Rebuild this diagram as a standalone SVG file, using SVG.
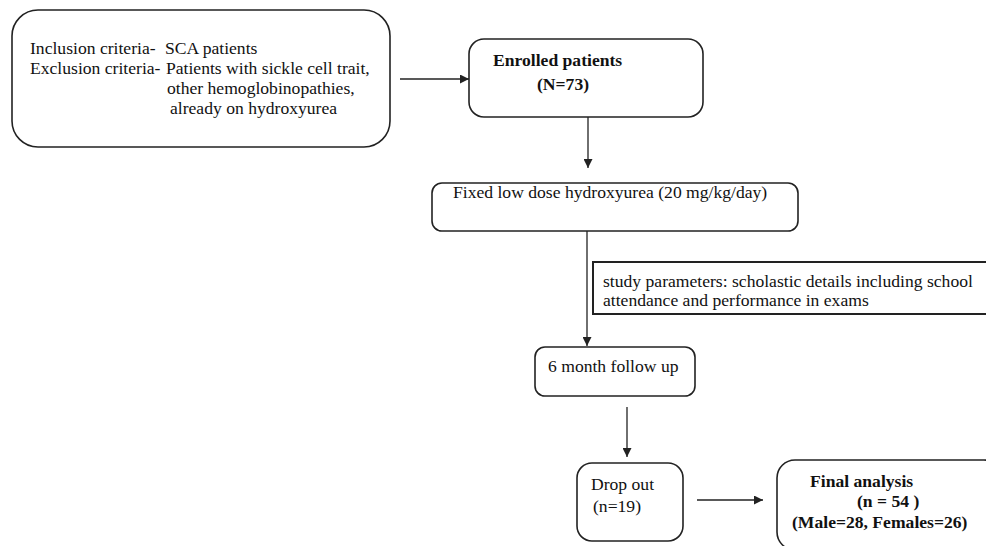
<svg xmlns="http://www.w3.org/2000/svg" width="986" height="546" viewBox="0 0 986 546">
<defs>
<style>
.box{fill:#fff;stroke:#222;stroke-width:1.6}
.t{font-family:"Liberation Serif","Times New Roman",serif;font-size:17.6px;fill:#111}
.b{font-weight:bold}
.c{stroke:#222;stroke-width:1.3;fill:none;marker-end:url(#ah)}
</style>
<marker id="ah" viewBox="0 0 10 10" refX="10" refY="5" markerWidth="9" markerHeight="9" markerUnits="userSpaceOnUse" orient="auto">
<path d="M0,0 L10,5 L0,10 z" fill="#222"/>
</marker>
</defs>
<rect width="986" height="546" fill="#fff"/>
<g id="connectors">
<line class="c" x1="400" y1="79" x2="469" y2="79"/>
<line class="c" x1="588" y1="117" x2="588" y2="168"/>
<line class="c" x1="587" y1="231" x2="587" y2="346"/>
<line class="c" x1="627" y1="407" x2="627" y2="457"/>
<line class="c" x1="697" y1="500" x2="763" y2="500"/>
</g>
<g id="criteria">
<rect class="box" x="12" y="10" width="378" height="137" rx="26"/>
<text class="t" x="30" y="54">Inclusion criteria-</text>
<text class="t" x="165" y="54">SCA patients</text>
<text class="t" x="30" y="74">Exclusion criteria-</text>
<text class="t" x="166" y="74">Patients with sickle cell trait,</text>
<text class="t" x="167" y="94">other hemoglobinopathies,</text>
<text class="t" x="170" y="114">already on hydroxyurea</text>
</g>
<g id="enrolled">
<rect class="box" x="469" y="39" width="234" height="78" rx="15"/>
<text class="t b" x="493" y="66">Enrolled patients</text>
<text class="t b" x="537" y="90">(N=73)</text>
</g>
<g id="hydroxyurea">
<rect class="box" x="432" y="183" width="366" height="48" rx="10"/>
<text class="t" x="453" y="198">Fixed low dose hydroxyurea (20 mg/kg/day)</text>
</g>
<g id="parameters">
<rect class="box" x="593" y="262" width="400" height="52" style="stroke-width:2"/>
<text class="t" x="603" y="287">study parameters: scholastic details including school</text>
<text class="t" x="603" y="306">attendance and performance in exams</text>
</g>
<g id="followup">
<rect class="box" x="535" y="347" width="160" height="49" rx="10"/>
<text class="t" x="548" y="372">6 month follow up</text>
</g>
<g id="dropout">
<rect class="box" x="577" y="463" width="106" height="78" rx="15"/>
<text class="t" x="591" y="490">Drop out</text>
<text class="t" x="593" y="512">(n=19)</text>
</g>
<g id="final">
<rect class="box" x="777" y="460" width="225" height="90" rx="18"/>
<text class="t b" x="810" y="487">Final analysis</text>
<text class="t b" x="857" y="507">(n = 54 )</text>
<text class="t b" x="792" y="528">(Male=28, Females=26)</text>
</g>
</svg>
